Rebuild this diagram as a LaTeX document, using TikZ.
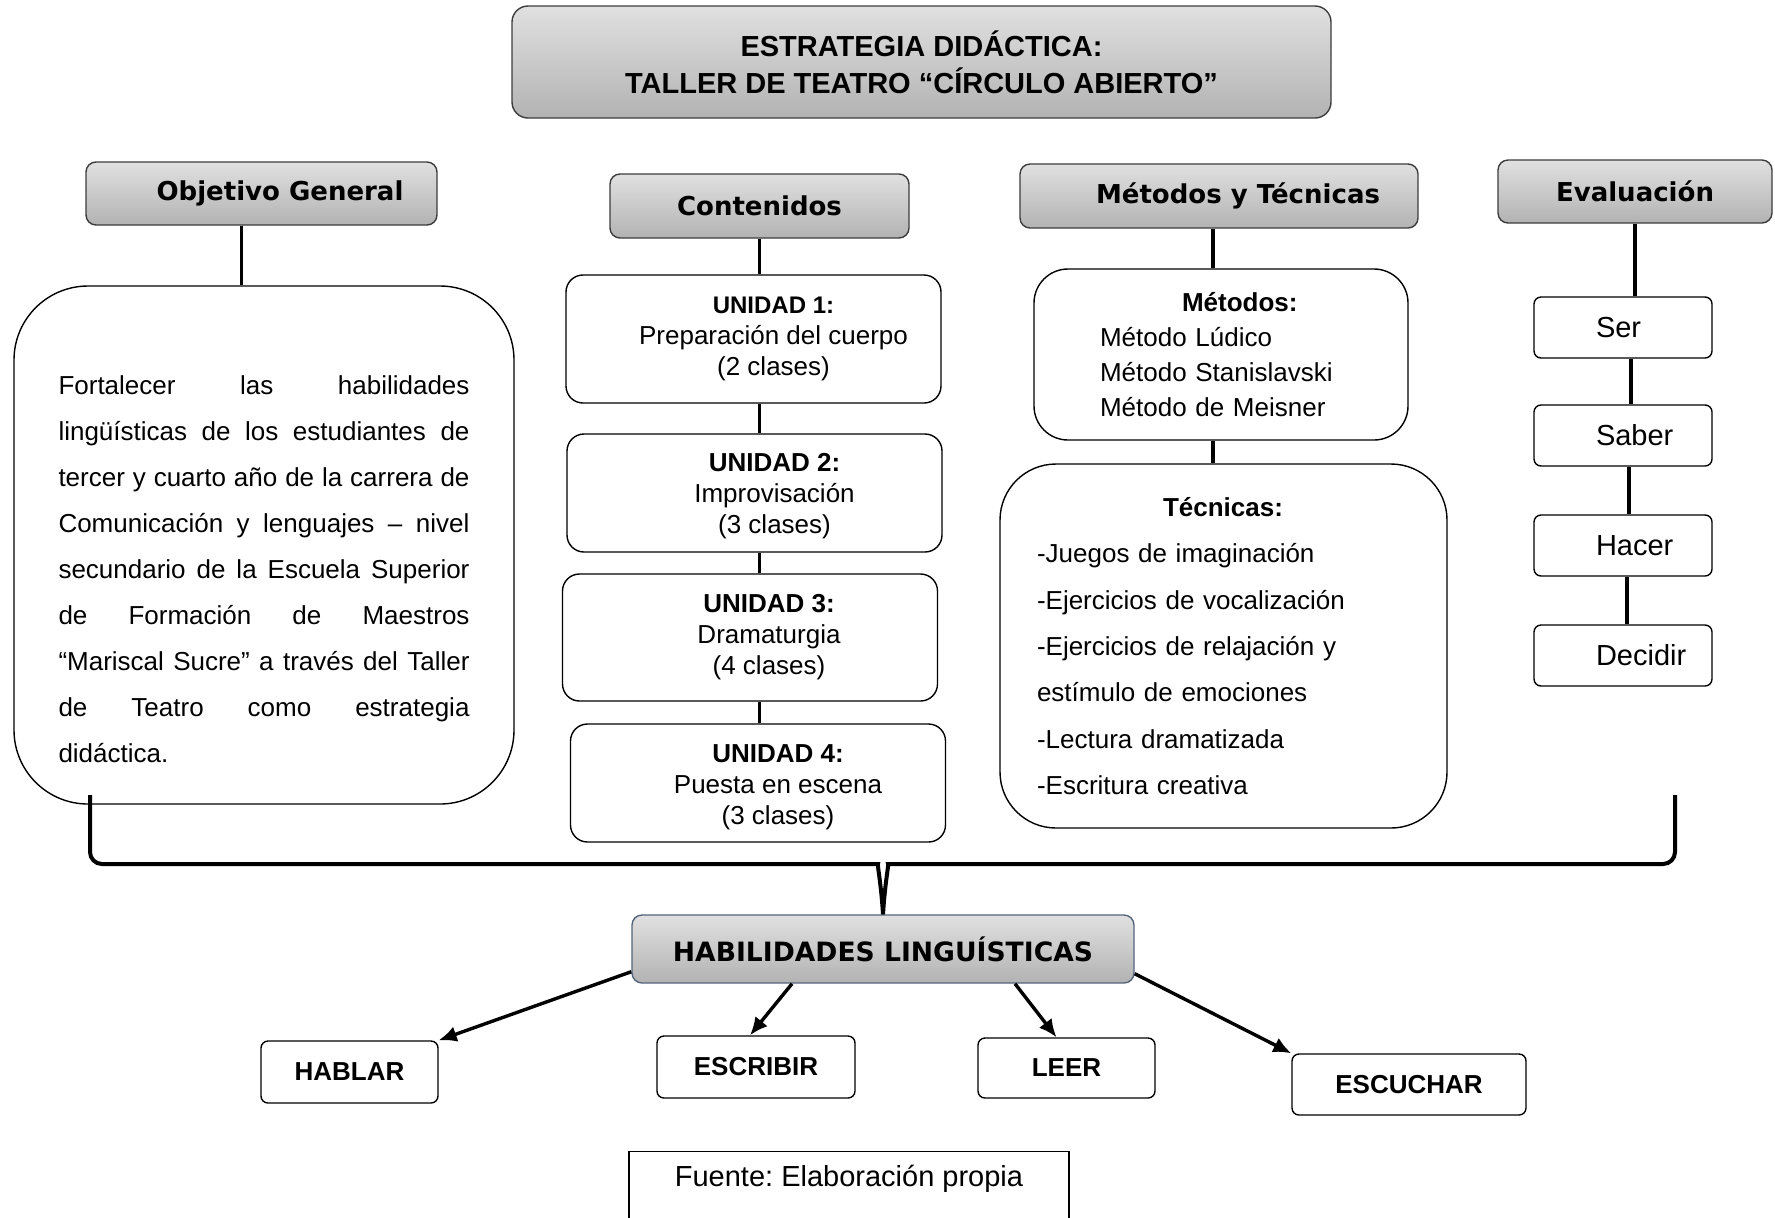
\documentclass[tikz,border=0pt]{standalone}
\usepackage{fontspec}
\setmainfont{Liberation Sans}
\newfontfamily\dejavu{DejaVu Sans}
\usetikzlibrary{arrows.meta}
\definecolor{headline}{RGB}{60,60,60}
\definecolor{habline}{RGB}{85,100,125}
\frenchspacing
\begin{document}
\begin{tikzpicture}[x=0.5pt, y=-0.5pt,
  head/.style={draw=headline, line width=0.7pt, rounded corners=5pt, top color=black!12, bottom color=black!30, font=\dejavu\bfseries\fontsize{13}{15}\selectfont},
  plainbox/.style={draw, line width=0.7pt},
  link/.style={line width=1.8pt},
  brace/.style={line width=2pt, rounded corners=6pt},
  arrow/.style={line width=1.7pt, -{Latex[length=9pt,width=8pt]}},
  leaf/.style={plainbox, rounded corners=3.5pt, minimum height=31pt, font=\bfseries\fontsize{13}{15}\selectfont},
  evalbox/.style={plainbox, rounded corners=3.5pt, minimum width=89pt, minimum height=30.5pt, inner xsep=31pt, text width=27pt, align=left, font=\fontsize{14.5}{17}\selectfont},
  unitbox/.style={plainbox, rounded corners=8.5pt, minimum width=187.5pt},
  unittext/.style={align=center, font=\fontsize{13}{15.5}\selectfont}]
\useasboundingbox (0,0) rectangle (1775,1217);

% title and column heads
\node[head, rounded corners=8pt, minimum width=409.5pt, minimum height=56pt, align=center, font=\bfseries\fontsize{14.5}{18.5}\selectfont] (title) at (921.5,62) {ESTRATEGIA DIDÁCTICA:\\TALLER DE TEATRO “CÍRCULO ABIERTO”};
\node[head, minimum width=175.5pt, minimum height=31.5pt] (og) at (261.5,193.5) {\hspace*{18.5pt}Objetivo General};
\node[head, minimum width=149.5pt, minimum height=32pt] (cont) at (759.5,206) {Contenidos};
\node[head, minimum width=199pt, minimum height=32pt] (myt) at (1219,196) {\hspace*{19pt}Métodos y Técnicas};
\node[head, minimum width=137pt, minimum height=31.5pt] (ev) at (1635,191.5) {Evaluación};

% objetivo
\node[plainbox, rounded corners=37pt, minimum width=250pt, minimum height=259pt] (obj) at (264,545) {};
\node[text width=205.5pt, align=justify, font=\fontsize{13}{23}\selectfont] (objt) at ([yshift=-12.25pt]obj.center) {Fortalecer las habilidades\linebreak lingüísticas de los estudiantes de\linebreak tercer y cuarto año de la carrera de\linebreak Comunicación y lenguajes – nivel\linebreak secundario de la Escuela Superior\linebreak de Formación de Maestros\linebreak “Mariscal Sucre” a través del Taller\linebreak de Teatro como estrategia\linebreak didáctica.};

% contenidos
\node[unitbox, minimum height=64pt] (u1) at (753.5,339) {};
\node[unittext] (u1t) at ([xshift=10pt]u1.center) {{\bfseries\fontsize{12}{15.5}\selectfont UNIDAD 1:}\\Preparación del cuerpo\\(2 clases)};
\node[unitbox, minimum height=59pt] (u2) at (754.5,493) {};
\node[unittext] (u2t) at ([xshift=10pt,yshift=-1.3pt]u2.center) {\textbf{UNIDAD 2:}\\Improvisación\\(3 clases)};
\node[unitbox, minimum height=63.5pt] (u3) at (750,637.5) {};
\node[unittext] (u3t) at ([xshift=9.5pt]u3.center) {\textbf{UNIDAD 3:}\\Dramaturgia\\(4 clases)};
\node[unitbox, minimum height=59pt] (u4) at (758,783) {};
\node[unittext] (u4t) at ([xshift=10pt,yshift=-2pt]u4.center) {\textbf{UNIDAD 4:}\\Puesta en escena\\(3 clases)};

% metodos y tecnicas
\node[plainbox, rounded corners=17pt, minimum width=187pt, minimum height=85.5pt, inner xsep=33pt, text width=121pt, align=left, font=\fontsize{13}{17.6}\selectfont] (met) at (1221,354.5) {\hspace*{41pt}\textbf{Métodos:}\\Método Lúdico\\Método Stanislavski\\Método de Meisner};
\node[plainbox, rounded corners=28pt, minimum width=223.5pt, minimum height=182pt, inner xsep=18.5pt, text width=186.5pt, align=left, font=\fontsize{13}{23.2}\selectfont] (tec) at (1223.5,646) {\hspace*{63pt}\textbf{Técnicas:}\\-Juegos de imaginación\\-Ejercicios de vocalización\\-Ejercicios de relajación y\\estímulo de emociones\\-Lectura dramatizada\\-Escritura creativa};

% evaluacion
\node[evalbox] (ser) at (1623,327.5) {Ser};
\node[evalbox] (saber) at (1623,435.5) {Saber};
\node[evalbox] (hacer) at (1623,545.5) {Hacer};
\node[evalbox] (decidir) at (1623,655.5) {Decidir};

% habilidades
\node[head, draw=habline, minimum width=251pt, minimum height=34pt, font=\dejavu\bfseries\fontsize{13.3}{15}\selectfont] (hab) at (883,949) {HABILIDADES LINGUÍSTICAS};
\node[leaf, minimum width=88.5pt] (hablar) at (349.5,1072) {HABLAR};
\node[leaf, minimum width=99pt] (escribir) at (756,1067) {ESCRIBIR};
\node[leaf, minimum width=88.5pt, minimum height=30pt] (leer) at (1066.5,1068) {LEER};
\node[leaf, minimum width=117pt, minimum height=30.5pt] (escuchar) at (1409,1084.5) {ESCUCHAR};

\node[plainbox, anchor=north, minimum width=220pt, inner ysep=0pt, text height=17.5pt, text depth=45pt, font=\fontsize{14.5}{17}\selectfont] (src) at (849,1151) {Fuente: Elaboración propia};

% connectors
\draw[link] ([xshift=-10pt]og.south) -- ([xshift=-10pt]og.south |- obj.north);
\draw[link] (cont.south) -- (cont.south |- u1.north);
\draw[link] (u1.south -| cont.south) -- (u2.north -| cont.south);
\draw[link] (u2.south -| cont.south) -- (u3.north -| cont.south);
\draw[link] (u3.south -| cont.south) -- (u4.north -| cont.south);
\draw[link] ([xshift=-3pt]myt.south) -- ([xshift=-3pt]myt.south |- met.north);
\draw[link] ([xshift=-4pt]met.south) -- ([xshift=-4pt]met.south |- tec.north);
\draw[link] (ev.south) -- (ev.south |- ser.north);
\draw[link] ([xshift=4pt]ser.south) -- ([xshift=4pt]saber.north);
\draw[link] ([xshift=3pt]saber.south) -- ([xshift=3pt]hacer.north);
\draw[link] ([xshift=2pt]hacer.south) -- ([xshift=2pt]decidir.north);

% brace
\coordinate (bl) at (90,795);
\coordinate (br) at (1675,795);
\draw[brace] (bl) |- (866,864) .. controls (877,864) and (881,882) .. (hab.north);
\draw[brace] (br) |- (900,864) .. controls (889,864) and (885,882) .. (hab.north);

% arrows
\draw[arrow] ([yshift=6pt]hab.south west) -- (hablar.north east);
\draw[arrow] ([xshift=-45.5pt]hab.south) -- ([xshift=-3pt]escribir.north);
\draw[arrow] ([xshift=66pt]hab.south) -- ([xshift=-5pt]leer.north);
\draw[arrow] ([yshift=5pt]hab.south east) -- (escuchar.north west);
\end{tikzpicture}
\end{document}
